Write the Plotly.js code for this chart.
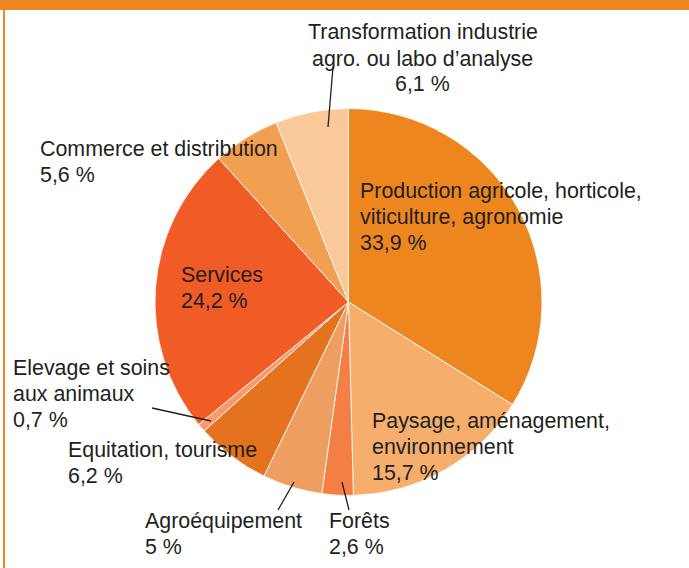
<!DOCTYPE html>
<html><head><meta charset="utf-8">
<script src="https://cdn.plot.ly/plotly-3.0.1.min.js"></script>
<style>html,body{margin:0;padding:0;background:#fff;}#chart{width:689px;height:568px;}</style>
</head><body><div id="chart"></div>
<script>
const categories = [
  "Production agricole, horticole,<br>viticulture, agronomie",
  "Paysage, aménagement,<br>environnement",
  "Forêts",
  "Agroéquipement",
  "Equitation, tourisme",
  "Elevage et soins<br>aux animaux",
  "Services",
  "Commerce et distribution",
  "Transformation industrie<br>agro. ou labo d’analyse"
];
const values = [33.9, 15.7, 2.6, 5, 6.2, 0.7, 24.2, 5.6, 6.1];
const valueLabels = ["33,9 %", "15,7 %", "2,6 %", "5 %", "6,2 %", "0,7 %", "24,2 %", "5,6 %", "6,1 %"];
const colors = ["#EE8620", "#F5AE6B", "#F37F45", "#EE9E61", "#E4721E", "#F79A6C", "#F15B25", "#F0A050", "#F9C99A"];

const W = 689, H = 568;
const px = x => x / W, py = y => 1 - y / H;
const LINE = 26;

// label placement (pixel): x of text start (or centre), y of first line centre
const labelPos = [
  {x: 359, y: 190.5, a: "left"},
  {x: 371, y: 420.5, a: "left"},
  {x: 328, y: 520.5, a: "left"},
  {x: 144, y: 520.5, a: "left"},
  {x: 67, y: 449.5, a: "left"},
  {x: 12, y: 367.5, a: "left"},
  {x: 180, y: 274.5, a: "left"},
  {x: 39, y: 148.5, a: "left"},
  {x: 423, y: 32.5, a: "center"}
];
const leaders = [
  null, null,
  [342, 482, 349, 510],
  [294, 482, 278, 510],
  null,
  [152, 408, 211, 421],
  null, null,
  [333, 67, 328, 127]
];

const annotations = [];
categories.forEach((c, i) => {
  const lines = (c + "<br>" + valueLabels[i]).split("<br>");
  lines.forEach((ln, k) => {
    annotations.push({
      text: ln,
      xref: "paper", yref: "paper",
      x: px(labelPos[i].x), y: py(labelPos[i].y + k * LINE),
      xanchor: labelPos[i].a, yanchor: "middle", align: labelPos[i].a,
      showarrow: false, borderpad: 0,
      font: {family: "Liberation Sans, Arial, sans-serif", size: 21.4, color: "#231F20"}
    });
  });
});

const shapes = [
  {type: "rect", xref: "paper", yref: "paper", x0: 0, x1: 1, y0: py(10), y1: 1, fillcolor: "#EE8620", line: {width: 0}, layer: "above"},
  {type: "rect", xref: "paper", yref: "paper", x0: px(3), x1: px(5), y0: 0, y1: py(10), fillcolor: "#F0882A", line: {width: 0}, layer: "above"}
];
leaders.forEach(l => {
  if (!l) return;
  shapes.push({type: "line", xref: "paper", yref: "paper", x0: px(l[0]), y0: py(l[1]), x1: px(l[2]), y1: py(l[3]), line: {color: "#231F20", width: 1.3}, layer: "above"});
});

const trace = {
  type: "pie",
  labels: categories,
  values: values,
  sort: false,
  direction: "clockwise",
  rotation: 0,
  marker: {colors: colors, line: {color: "#ffffff", width: 0.8}},
  textinfo: "none",
  hoverinfo: "none",
  showlegend: false,
  domain: {x: [px(155), px(542)], y: [py(496), py(108)]}
};

Plotly.newPlot("chart", [trace], {
  width: W, height: H,
  margin: {l: 0, r: 0, t: 0, b: 0},
  paper_bgcolor: "#ffffff",
  showlegend: false,
  annotations: annotations,
  shapes: shapes
}, {staticPlot: true, displayModeBar: false});
</script></body></html>
